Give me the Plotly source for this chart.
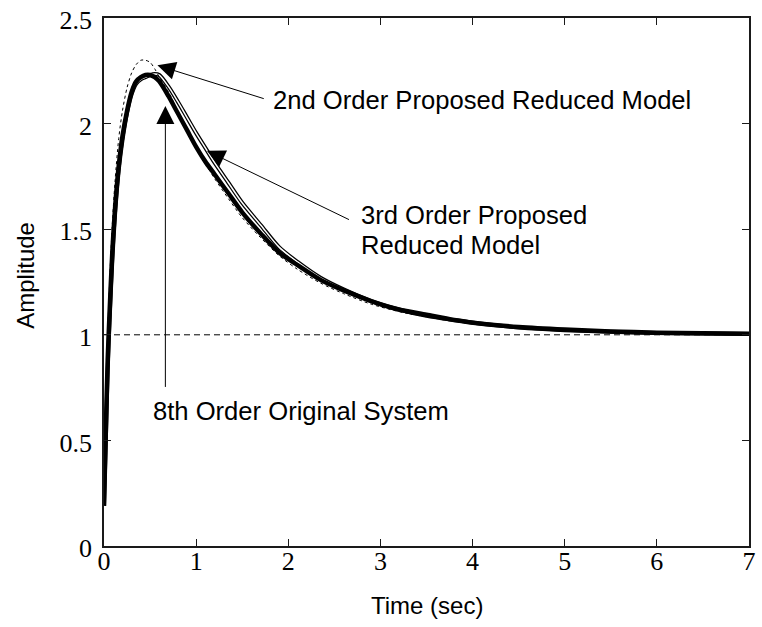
import plotly.graph_objects as go

# ---------------- data ----------------
time_s = [0, 0.02, 0.04, 0.06, 0.09, 0.12, 0.16, 0.2, 0.25, 0.3, 0.35, 0.4, 0.45,
          0.5, 0.55, 0.6, 0.7, 0.8, 0.9, 1.0, 1.1, 1.2, 1.35, 1.5, 1.7, 1.9, 2.1,
          2.35, 2.6, 2.9, 3.2, 3.5, 3.8, 4.15, 4.5, 5.0, 5.5, 6.0, 6.5, 7.0]

order8_original = [0.19, 0.55, 0.88, 1.1, 1.39, 1.6, 1.8, 1.94, 2.06, 2.15, 2.2, 2.22, 2.23,
                   2.23, 2.22, 2.2, 2.13, 2.05, 1.97, 1.89, 1.82, 1.76, 1.67, 1.58, 1.48, 1.39, 1.33,
                   1.26, 1.21, 1.16, 1.12, 1.095, 1.07, 1.05, 1.037, 1.025, 1.016, 1.01, 1.007, 1.005]

order3_reduced = [0.19, 0.5, 0.83, 1.06, 1.35, 1.57, 1.78, 1.92, 2.05, 2.14, 2.19, 2.21, 2.22,
                  2.23, 2.235, 2.23, 2.175, 2.105, 2.03, 1.955, 1.885, 1.815, 1.72, 1.625, 1.52, 1.415, 1.345,
                  1.27, 1.215, 1.16, 1.12, 1.09, 1.07, 1.05, 1.035, 1.022, 1.014, 1.009, 1.006, 1.004]

order2_reduced = [0.19, 0.62, 0.98, 1.24, 1.52, 1.73, 1.93, 2.06, 2.17, 2.24, 2.28, 2.30, 2.30,
                  2.29, 2.26, 2.22, 2.15, 2.06, 1.975, 1.885, 1.81, 1.74, 1.645, 1.555, 1.46, 1.375, 1.31,
                  1.245, 1.195, 1.145, 1.11, 1.085, 1.063, 1.045, 1.033, 1.021, 1.013, 1.008, 1.005, 1.003]

steady_t = [0, 7]
steady_y = [1, 1]

x_ticks = [0, 1, 2, 3, 4, 5, 6, 7]
x_tick_labels = ["0", "1", "2", "3", "4", "5", "6", "7"]
y_ticks = [0, 0.5, 1, 1.5, 2, 2.5]
y_tick_labels = ["0", "0.5", "1", "1.5", "2", "2.5"]

label_2nd = "2nd Order Proposed Reduced Model"
label_3rd_a = "3rd Order Proposed"
label_3rd_b = "Reduced Model"
label_8th = "8th Order Original System"
x_title = "Time (sec)"
y_title = "Amplitude"

# ---------------- figure ----------------
fig = go.Figure()

fig.add_trace(go.Scatter(x=steady_t, y=steady_y, mode="lines",
                         line=dict(color="black", width=1, dash="6px,4px"),
                         hoverinfo="skip", showlegend=False))
# 3rd order: hollow-looking line (black outline with white core)
fig.add_trace(go.Scatter(x=time_s, y=order3_reduced, mode="lines",
                         line=dict(color="black", width=4, shape="spline", smoothing=0.8),
                         showlegend=False))
fig.add_trace(go.Scatter(x=time_s, y=order3_reduced, mode="lines",
                         line=dict(color="white", width=1.5, shape="spline", smoothing=0.8),
                         hoverinfo="skip", showlegend=False))
# 8th order original: thick solid
fig.add_trace(go.Scatter(x=time_s, y=order8_original, mode="lines",
                         line=dict(color="black", width=4.5, shape="spline", smoothing=0.8),
                         showlegend=False))
# 2nd order: thin dashed
fig.add_trace(go.Scatter(x=time_s, y=order2_reduced, mode="lines",
                         line=dict(color="black", width=1, dash="3px,3px", shape="spline", smoothing=0.8),
                         showlegend=False))

axis_common = dict(showline=True, linecolor="#1a1a1a", linewidth=1.5, mirror="ticks",
                   ticks="inside", ticklen=7, tickwidth=1.2, tickcolor="#1a1a1a",
                   showgrid=False, zeroline=False,
                   tickfont=dict(family="Liberation Serif", size=26, color="black"))

fig.update_xaxes(range=[0, 7], tickmode="array", tickvals=x_ticks, ticktext=x_tick_labels,
                 ticklabelstandoff=-9, **axis_common)
fig.update_yaxes(range=[0, 2.5], tickmode="array", tickvals=y_ticks, ticktext=y_tick_labels,
                 ticklabelstandoff=5, ticklabelshift=2, **axis_common)

ann_font = dict(family="Liberation Sans", size=25.6, color="black")
arrow_style = dict(text="", showarrow=True, arrowhead=2, arrowsize=3.6, arrowwidth=1,
                   arrowcolor="black", xref="x", yref="y", axref="x", ayref="y")
annotations = [
    # arrows (head at x,y; tail at ax,ay)
    dict(x=0.58, y=2.276, ax=1.75, ay=2.116, **arrow_style),
    dict(x=1.117, y=1.871, ax=2.675, ay=1.542, **arrow_style),
    dict(x=0.666, y=2.083, ax=0.666, ay=0.746, **arrow_style),
    # texts
    dict(x=1.815, y=2.112, xref="x", yref="y", text=label_2nd, showarrow=False,
         xanchor="left", yanchor="middle", font=ann_font),
    dict(x=2.77, y=1.565, xref="x", yref="y", text=label_3rd_a, showarrow=False,
         xanchor="left", yanchor="middle", font=ann_font),
    dict(x=2.77, y=1.424, xref="x", yref="y", text=label_3rd_b, showarrow=False,
         xanchor="left", yanchor="middle", font=ann_font),
    dict(x=0.515, y=0.638, xref="x", yref="y", text=label_8th, showarrow=False,
         xanchor="left", yanchor="middle", font=ann_font),
    # axis titles
    dict(x=0.5, y=-0.112, xref="paper", yref="paper", text=x_title, showarrow=False,
         xanchor="center", yanchor="middle",
         font=dict(family="Liberation Sans", size=24, color="black")),
    dict(x=-0.123, y=0.513, xref="paper", yref="paper", text=y_title, showarrow=False,
         textangle=-90, xanchor="center", yanchor="middle",
         font=dict(family="Liberation Sans", size=24, color="black")),
]

fig.update_layout(width=762, height=627,
                  margin=dict(l=104, r=6, t=14, b=81),
                  paper_bgcolor="white", plot_bgcolor="white",
                  showlegend=False, annotations=annotations)

fig.write_html("out.html")
